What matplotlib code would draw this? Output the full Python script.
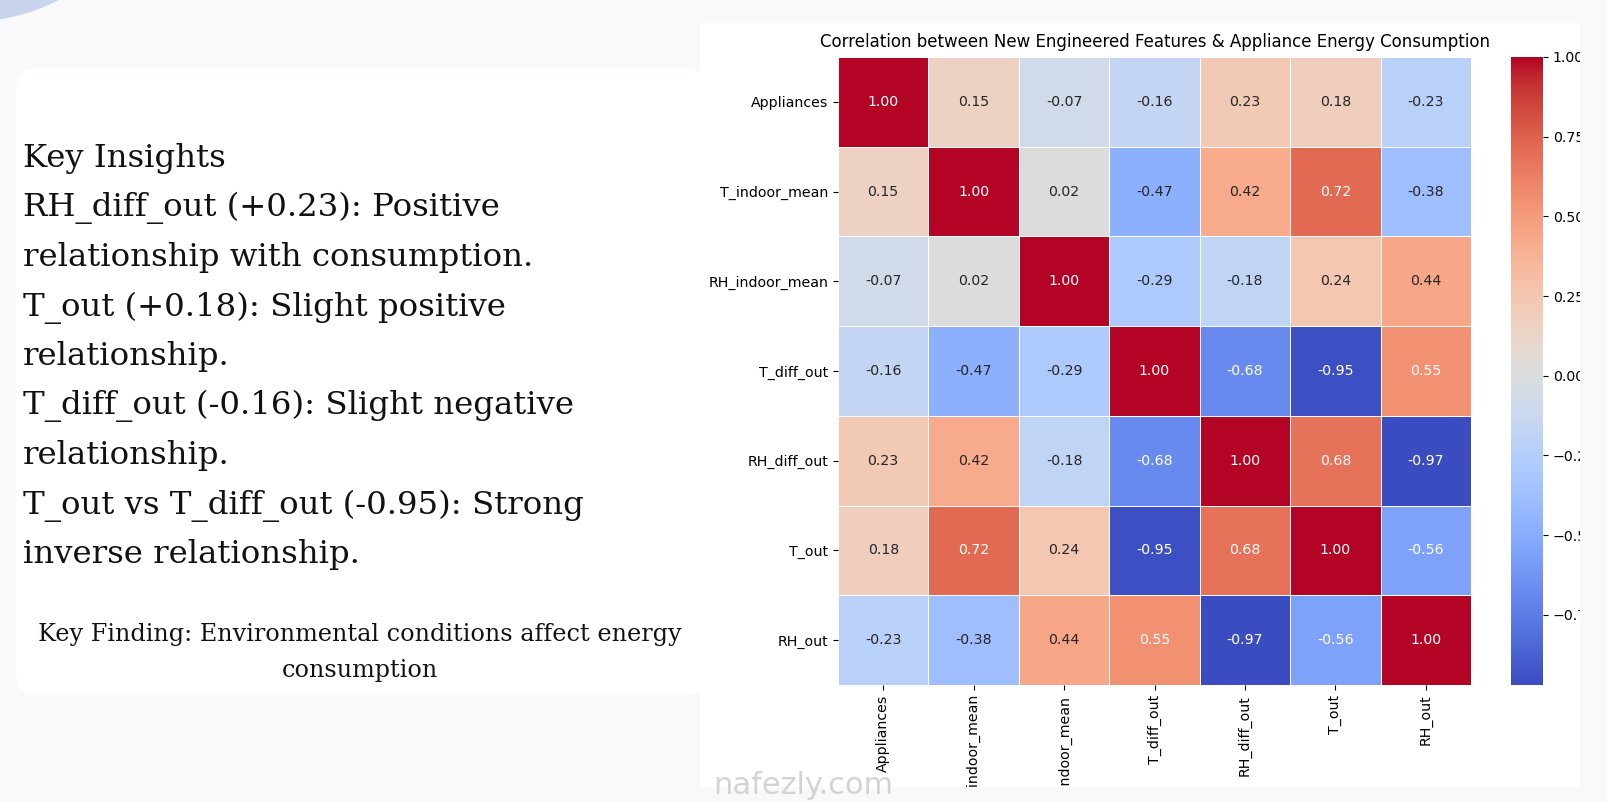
import numpy as np
import matplotlib
matplotlib.use("Agg")
import matplotlib.pyplot as plt
from matplotlib.patches import FancyBboxPatch, Rectangle, Circle

W, H = 1607, 802

features = ["Appliances", "T_indoor_mean", "RH_indoor_mean", "T_diff_out",
            "RH_diff_out", "T_out", "RH_out"]
appliances = [1.00, 0.15, -0.07, -0.16, 0.23, 0.18, -0.23]
t_indoor_mean = [0.15, 1.00, 0.02, -0.47, 0.42, 0.72, -0.38]
rh_indoor_mean = [-0.07, 0.02, 1.00, -0.29, -0.18, 0.24, 0.44]
t_diff_out = [-0.16, -0.47, -0.29, 1.00, -0.68, -0.95, 0.55]
rh_diff_out = [0.23, 0.42, -0.18, -0.68, 1.00, 0.68, -0.97]
t_out = [0.18, 0.72, 0.24, -0.95, 0.68, 1.00, -0.56]
rh_out = [-0.23, -0.38, 0.44, 0.55, -0.97, -0.56, 1.00]
corr = np.array([appliances, t_indoor_mean, rh_indoor_mean, t_diff_out,
                 rh_diff_out, t_out, rh_out])
cbar_ticks = [-0.75, -0.5, -0.25, 0.0, 0.25, 0.5, 0.75, 1.0]

title = "Correlation between New Engineered Features & Appliance Energy Consumption"
insight_lines = [
    "Key Insights",
    "RH_diff_out (+0.23): Positive",
    "relationship with consumption.",
    "T_out (+0.18): Slight positive",
    "relationship.",
    "T_diff_out (-0.16): Slight negative",
    "relationship.",
    "T_out vs T_diff_out (-0.95): Strong",
    "inverse relationship.",
]
finding_lines = ["Key Finding: Environmental conditions affect energy",
                 "consumption"]

PAGE = "#f8f9fb"
SERIF = ["DejaVu Serif"]


def luminance(rgba):
    # relative luminance, same rule seaborn uses to pick annotation colour
    rgb = np.array(rgba[:3])
    rgb = np.where(rgb <= 0.03928, rgb / 12.92, ((rgb + 0.055) / 1.055) ** 2.4)
    return rgb.dot([0.2126, 0.7152, 0.0722])


fig = plt.figure(figsize=(W / 100, H / 100), dpi=100)
fig.patch.set_facecolor(PAGE)

# background layer, pixel coordinates (y down)
bg = fig.add_axes([0, 0, 1, 1], zorder=-1)
bg.set_xlim(0, W)
bg.set_ylim(H, 0)
bg.axis("off")
bg.add_patch(Circle((-30, -170), 191, color="#c8d5ec"))
bg.add_patch(Rectangle((700, 23), 880, 770, fc="white", ec="none"))
bg.add_patch(FancyBboxPatch((16, 68), 690, 627,
                            boxstyle="round,pad=0,rounding_size=22",
                            fc="white", ec="none"))

for i, line in enumerate(insight_lines):
    bg.text(23, 167 + i * 49.5, line, fontsize=23.3, family=SERIF,
            color="#111111", ha="left", va="baseline")
for i, line in enumerate(finding_lines):
    bg.text(360, 641 + i * 36, line, fontsize=17.2, family=SERIF,
            color="#111111", ha="center", va="baseline")

# heatmap
n = len(features)
cmap = plt.get_cmap("coolwarm")
norm = plt.Normalize(corr.min(), corr.max())

ax = fig.add_axes([838 / W, 1 - 685 / H, 633 / W, 628 / H])
mesh = ax.pcolormesh(corr, cmap=cmap, norm=norm, edgecolors="white",
                     linewidth=0.6)
ax.set_xlim(0, n)
ax.set_ylim(n, 0)
for i in range(n):
    for j in range(n):
        val = corr[i, j]
        col = "white" if luminance(cmap(norm(val))) < 0.408 else ".15"
        ax.text(j + 0.5, i + 0.5, f"{val:.2f}", ha="center", va="center",
                color=col, fontsize=10.2)
ax.set_xticks(np.arange(n) + 0.5, features, rotation=90, fontsize=10.2)
ax.set_yticks(np.arange(n) + 0.5, features, fontsize=10.2)
for s in ax.spines.values():
    s.set_visible(False)
ax.set_title(title, fontsize=12, pad=7)

cax = fig.add_axes([1511 / W, 1 - 685 / H, 32 / W, 628 / H])
cb = fig.colorbar(mesh, cax=cax)
cb.outline.set_visible(False)
cb.set_ticks(cbar_ticks)
cb.ax.tick_params(labelsize=10.2)

# screenshot crop edges (labels cut as in the source) + watermark
top = fig.add_axes([0, 0, 1, 1], zorder=10)
top.set_xlim(0, W)
top.set_ylim(H, 0)
top.axis("off")
top.patch.set_alpha(0)
top.add_patch(Rectangle((700, 787), W, H, fc=PAGE, ec="none"))
top.add_patch(Rectangle((1580, 0), W, H, fc=PAGE, ec="none"))
top.text(803, 785, "nafezly.com", fontsize=22, color="#cfcfcf", alpha=0.9,
         ha="center", va="center", family="DejaVu Sans")

fig.savefig("out.png", dpi=100, facecolor=fig.get_facecolor())
